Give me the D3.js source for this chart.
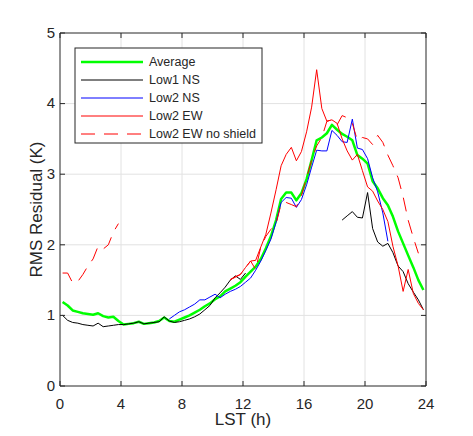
<!DOCTYPE html>
<html>
<head>
<meta charset="utf-8">
<script src="https://cdn.jsdelivr.net/npm/d3@7"></script>
<style>
body { margin: 0; background: #fff; }
text { font-family: 'Liberation Sans', Arial, Helvetica, sans-serif; fill: #262626; }
</style>
</head>
<body>
<div id="chart"></div>
<script>
// local solar time (h), one sample every 20 min
var hours = [0.17, 0.5, 0.83, 1.17, 1.5, 1.83, 2.17, 2.5, 2.83, 3.17, 3.5, 3.83,
    4.17, 4.5, 4.83, 5.17, 5.5, 5.83, 6.17, 6.5, 6.83, 7.17, 7.5, 7.83,
    8.17, 8.5, 8.83, 9.17, 9.5, 9.83, 10.17, 10.5, 10.83, 11.17, 11.5, 11.83,
    12.17, 12.5, 12.83, 13.17, 13.5, 13.83, 14.17, 14.5, 14.83, 15.17, 15.5, 15.83,
    16.17, 16.5, 16.83, 17.17, 17.5, 17.83, 18.17, 18.5, 18.83, 19.17, 19.5, 19.83,
    20.17, 20.5, 20.83, 21.17, 21.5, 21.83, 22.17, 22.5, 22.83, 23.17, 23.5, 23.83];

var average = [1.19, 1.14, 1.07, 1.05, 1.03, 1.02, 1.01, 1.03, 0.99, 0.97, 0.98, 0.92,
    0.87, 0.88, 0.89, 0.91, 0.88, 0.89, 0.90, 0.92, 0.97, 0.92, 0.91, 0.94,
    0.97, 1.00, 1.04, 1.08, 1.13, 1.17, 1.23, 1.27, 1.34, 1.38, 1.42, 1.47,
    1.55, 1.62, 1.69, 1.80, 1.95, 2.12, 2.35, 2.65, 2.74, 2.74, 2.63, 2.73,
    2.93, 3.20, 3.48, 3.52, 3.58, 3.70, 3.63, 3.57, 3.53, 3.48, 3.27, 3.22,
    3.15, 2.90, 2.80, 2.66, 2.56, 2.40, 2.19, 2.02, 1.85, 1.68, 1.50, 1.36];

var low1NS = [1.00, 0.93, 0.90, 0.89, 0.87, 0.86, 0.85, 0.89, 0.84, 0.85, 0.86, 0.87,
    0.87, 0.88, 0.89, 0.91, 0.88, 0.89, 0.90, 0.91, 0.98, 0.92, 0.90, 0.91,
    0.93, 0.95, 0.98, 1.02, 1.08, 1.14, 1.25, 1.32, 1.40, 1.50, 1.56, 1.51,
    1.60, null, null, null, null, null, null, null, null, null, null, null,
    null, null, null, null, null, null, null, 2.35, 2.41, 2.47, 2.39, 2.38,
    2.74, 2.23, 2.04, 1.98, 2.02, 1.89, 1.70, 1.62, 1.45, 1.33, 1.22, 1.08];

var low2NS = [null, null, null, null, null, null, null, null, null, null, null, null,
    null, null, null, null, null, null, null, null, null, 0.95, 1.00, 1.05,
    1.08, 1.12, 1.16, 1.22, 1.22, 1.26, 1.30, 1.25, 1.30, 1.34, 1.37, 1.41,
    1.47, 1.53, 1.64, 1.77, 1.92, 2.08, 2.32, 2.60, 2.67, 2.66, 2.53, 2.64,
    2.85, 3.10, 3.34, 3.33, 3.33, 3.62, 3.55, 3.46, 3.45, 3.78, 3.37, 3.35,
    3.22, 2.95, 2.75, 2.45, 2.05, null, null, null, null, null, null, null];

var low2EW = [null, null, null, null, null, null, null, null, null, null, null, null,
    null, null, null, null, null, null, null, null, null, null, null, null,
    null, null, null, null, null, null, null, null, null, 1.51, 1.54, 1.58,
    1.68, 1.77, 1.78, 1.97, 2.15, 2.45, 2.78, 3.12, 3.28, 3.38, 3.19, 3.32,
    3.60, 3.95, 4.48, 3.93, 3.75, 3.77, 3.72, 3.50, 3.33, 3.20, 3.28, 3.05,
    2.82, 2.76, 2.62, 2.50, 2.33, 1.98, 1.70, 1.34, 1.65, 1.31, 1.17, 1.08];

var low2EWNoShield = [1.60, 1.60, 1.46, 1.48, 1.58, 1.70, 1.80, 1.98, 1.94, 2.00, 2.18, 2.30,
    null, null, null, null, null, null, null, null, null, null, null, null,
    null, null, null, null, null, null, null, null, null, 1.50, 1.55, 1.58,
    1.68, 1.77, 1.65, 1.97, 2.12, 2.22, 2.30, 2.58, 2.60, 2.57, 2.54, 2.70,
    2.95, 3.20, 3.40, 3.52, 3.75, 3.77, 3.70, 3.83, 3.80, 3.72, 3.48, 3.52,
    3.50, 3.42, 3.55, 3.45, 3.27, 3.12, 2.95, 2.68, 2.35, 2.10, 1.88, null];

var seriesNames = ['Average', 'Low1 NS', 'Low2 NS', 'Low2 EW', 'Low2 EW no shield'];
var xTicks = [0, 4, 8, 12, 16, 20, 24];
var yTicks = [0, 1, 2, 3, 4, 5];

var series = [
    { name: seriesNames[0], values: average, color: '#00ff00', width: 2.5, dash: null },
    { name: seriesNames[1], values: low1NS, color: '#000000', width: 1, dash: null },
    { name: seriesNames[2], values: low2NS, color: '#0000ff', width: 1, dash: null },
    { name: seriesNames[3], values: low2EW, color: '#ff0000', width: 1, dash: null },
    { name: seriesNames[4], values: low2EWNoShield, color: '#ff0000', width: 1, dash: '14,9' }
];

var svg = d3.select('#chart')
    .append('svg')
    .attr('width', 473)
    .attr('height', 436);

var plotLeft = 60, plotRight = 426, plotTop = 33, plotBottom = 386;

var x = d3.scaleLinear().domain([0, 24]).range([plotLeft, plotRight]);
var y = d3.scaleLinear().domain([0, 5]).range([plotBottom, plotTop]);

// grid lines
svg.append('g')
    .selectAll('line')
    .data(xTicks.slice(1, -1))
    .enter()
    .append('line')
    .attr('x1', function(d) { return x(d); })
    .attr('x2', function(d) { return x(d); })
    .attr('y1', plotTop)
    .attr('y2', plotBottom)
    .attr('stroke', '#e2e2e2');

svg.append('g')
    .selectAll('line')
    .data(yTicks.slice(1, -1))
    .enter()
    .append('line')
    .attr('x1', plotLeft)
    .attr('x2', plotRight)
    .attr('y1', function(d) { return y(d); })
    .attr('y2', function(d) { return y(d); })
    .attr('stroke', '#e2e2e2');

// the data lines
var line = d3.line()
    .defined(function(d) { return d[1] !== null; })
    .x(function(d) { return x(d[0]); })
    .y(function(d) { return y(d[1]); });

series.forEach(function(s) {
    var pts = hours.map(function(h, i) { return [h, s.values[i]]; });
    svg.append('path')
        .datum(pts)
        .attr('fill', 'none')
        .attr('stroke', s.color)
        .attr('stroke-width', s.width)
        .attr('stroke-linejoin', 'round')
        .attr('stroke-dasharray', s.dash)
        .attr('d', line);
});

// axes, ticks pointing inwards, box on all four sides
function styleAxis(g) {
    g.selectAll('path, line').attr('stroke', '#262626');
    g.selectAll('text')
        .attr('font-size', '15px')
        .attr('font-family', "'Liberation Sans', Arial, Helvetica, sans-serif")
        .attr('fill', '#262626');
}

svg.append('g')
    .attr('transform', 'translate(0,' + plotBottom + ')')
    .call(d3.axisBottom(x).tickValues(xTicks).tickFormat(d3.format('d'))
        .tickSizeInner(-5).tickSizeOuter(0).tickPadding(12).offset(0))
    .call(styleAxis);

svg.append('g')
    .attr('transform', 'translate(0,' + plotTop + ')')
    .call(d3.axisTop(x).tickValues(xTicks).tickSizeInner(-5).tickSizeOuter(0).tickFormat('').offset(0))
    .call(styleAxis);

svg.append('g')
    .attr('transform', 'translate(' + plotLeft + ',0)')
    .call(d3.axisLeft(y).tickValues(yTicks).tickFormat(d3.format('d'))
        .tickSizeInner(-5).tickSizeOuter(0).tickPadding(5).offset(0))
    .call(styleAxis);

svg.append('g')
    .attr('transform', 'translate(' + plotRight + ',0)')
    .call(d3.axisRight(y).tickValues(yTicks).tickSizeInner(-5).tickSizeOuter(0).tickFormat('').offset(0))
    .call(styleAxis);

// axis labels
svg.append('text')
    .attr('x', (plotLeft + plotRight) / 2)
    .attr('y', 425)
    .attr('text-anchor', 'middle')
    .attr('font-size', '17px')
    .text('LST (h)');

svg.append('text')
    .attr('transform', 'translate(42,' + ((plotTop + plotBottom) / 2) + ') rotate(-90)')
    .attr('text-anchor', 'middle')
    .attr('font-size', '17px')
    .text('RMS Residual (K)');

// legend
var legend = svg.append('g').attr('transform', 'translate(75,48)');

legend.append('rect')
    .attr('width', 187)
    .attr('height', 95)
    .attr('fill', '#ffffff')
    .attr('stroke', '#262626')
    .attr('stroke-width', 1);

series.forEach(function(s, i) {
    var ly = 14 + i * 18;
    legend.append('line')
        .attr('x1', 6)
        .attr('x2', 68)
        .attr('y1', ly)
        .attr('y2', ly)
        .attr('stroke', s.color)
        .attr('stroke-width', s.width)
        .attr('stroke-dasharray', s.dash);
    legend.append('text')
        .attr('x', 74)
        .attr('y', ly)
        .attr('dy', '0.35em')
        .attr('font-size', '12.5px')
        .text(s.name);
});
</script>
</body>
</html>
